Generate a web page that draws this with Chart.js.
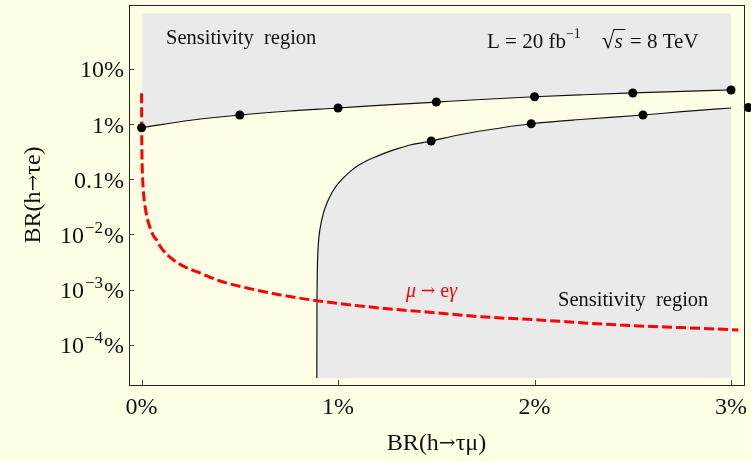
<!DOCTYPE html>
<html><head><meta charset="utf-8">
<script src="https://cdn.jsdelivr.net/npm/chart.js@4/dist/chart.umd.min.js"></script>
<style>html,body{margin:0;padding:0;background:#FFFFE5;}#wrap{width:751px;height:462px;}</style>
</head><body><div id="wrap"><canvas id="c" width="751" height="462"></canvas></div>
<script>
// ---- data (values in %) ----
const xTicks = [0, 1, 2, 3];
const xTickLabels = ['0%', '1%', '2%', '3%'];
const yTicks = [10, 1, 0.1, 0.01, 0.001, 0.0001];
const yTickLabels = ['10%', '1%', '0.1%', '10^−2%', '10^−3%', '10^−4%'];

// upper boundary curve BR(h→τe) vs BR(h→τμ)
const upperX = [0, 0.25, 0.5, 0.75, 1.0, 1.25, 1.5, 1.75, 2.0, 2.25, 2.5, 2.75, 3.0];
const upperY = [0.857, 1.17, 1.456, 1.72, 1.95, 2.22, 2.50, 2.81, 3.12, 3.39, 3.65, 3.90, 4.13];
const upperDotX = [0, 0.5, 1.0, 1.5, 2.0, 2.5, 3.0];
const upperDotY = [0.857, 1.456, 1.95, 2.50, 3.12, 3.65, 4.13];

// lower boundary curve
const lowerX = [0.892, 0.8925, 0.894, 0.897, 0.902, 0.909, 0.925, 0.943, 0.97, 0.994, 1.03, 1.061, 1.10, 1.146, 1.20, 1.248, 1.30, 1.367, 1.474, 1.60, 1.75, 1.983, 2.25, 2.552, 2.75, 3.0];
const lowerY = [0.000025, 0.0003, 0.0016, 0.0045, 0.0085, 0.013, 0.024, 0.0366, 0.058, 0.0785, 0.108, 0.137, 0.175, 0.216, 0.262, 0.307, 0.355, 0.417, 0.492, 0.62, 0.77, 1.01, 1.22, 1.456, 1.67, 1.95];
const lowerDotX = [1.474, 1.983, 2.552, 3.088];
const lowerDotY = [0.492, 1.01, 1.456, 1.99];

// mu -> e gamma bound (red dashed)
const megX = [0, 0.0004, 0.001, 0.003, 0.006, 0.012, 0.021, 0.035, 0.06, 0.077, 0.1, 0.16, 0.22, 0.298, 0.4, 0.536, 0.7, 0.892, 1.214, 1.5, 1.724, 2.0, 2.437, 2.75, 3.037];
const megY = [3.6, 1.3, 0.52, 0.18, 0.093, 0.047, 0.0272, 0.0163, 0.0095, 0.0079, 0.0057, 0.0035, 0.00258, 0.002, 0.00143, 0.00107, 0.00081, 0.00063, 0.000464, 0.00038, 0.000323, 0.000285, 0.000228, 0.000205, 0.000186];

// sensitivity region bounds
const regionTop = 100;
const regionBottom = 0.000025;
const xMin = -0.064, xMax = 3.066;
const yMin = Math.pow(10, -4.728), yMax = Math.pow(10, 2.156);

const pts = (xs, ys) => xs.map((v, i) => ({x: v, y: ys[i]}));

const GRAY = '#EAEAEA';
const CREAM = '#FFFFE5';
const FONT = '"Liberation Serif", "Times New Roman", serif';
const AFONT = '"DejaVu Serif", serif';
const fnt = (s, st) => (st ? st + ' ' : '') + s + 'px ' + FONT;
const afnt = s => s + 'px ' + AFONT;

function rich(ctx, parts, x, y, align) {
  let w = 0;
  parts.forEach(p => { ctx.font = p.font; p.w = ctx.measureText(p.t).width; w += p.w + (p.gap || 0) + (p.pre || 0); });
  let cx = align === 'right' ? x - w : align === 'center' ? x - w / 2 : x;
  parts.forEach(p => {
    cx += (p.pre || 0);
    ctx.font = p.font;
    ctx.fillText(p.t, cx, y + (p.dy || 0));
    if (p.after) p.after(ctx, cx, y, p.w);
    cx += p.w + (p.gap || 0);
  });
}

const bgPlugin = {
  id: 'bg',
  beforeDraw(chart) {
    const ctx = chart.ctx;
    ctx.save(); ctx.fillStyle = CREAM; ctx.fillRect(0, 0, chart.width, chart.height); ctx.restore();
  }
};

const annot = {
  id: 'annot',
  afterDraw(chart) {
    const {ctx, chartArea: a, scales: {x, y}} = chart;
    ctx.save();
    ctx.strokeStyle = '#222'; ctx.lineWidth = 1;
    ctx.strokeRect(a.left + 0.5, a.top + 0.5, a.right - a.left, a.bottom - a.top);
    ctx.strokeStyle = '#444';
    ctx.beginPath();
    xTicks.forEach(v => { const px = Math.round(x.getPixelForValue(v)) + 0.5; ctx.moveTo(px, a.bottom); ctx.lineTo(px, a.bottom - 5); });
    yTicks.forEach(v => { const py = Math.round(y.getPixelForValue(v)) + 0.5; ctx.moveTo(a.left, py); ctx.lineTo(a.left + 5, py); });
    ctx.stroke();

    ctx.fillStyle = '#111';
    ctx.textBaseline = 'alphabetic';
    ctx.textAlign = 'left';
    xTicks.forEach((v, i) => {
      rich(ctx, [{t: xTickLabels[i], font: fnt(24)}], x.getPixelForValue(v), a.bottom + 29, 'center');
    });
    yTicks.forEach((v, i) => {
      const lab = yTickLabels[i];
      const py = y.getPixelForValue(v) + 8.5;
      const m = lab.match(/^10\^(.+)%$/);
      let parts;
      if (m) parts = [{t: '10', font: fnt(24)}, {t: m[1], font: fnt(17), dy: -10, pre: 1, gap: 1}, {t: '%', font: fnt(24)}];
      else parts = [{t: lab, font: fnt(24)}];
      rich(ctx, parts, a.left - 5, py, 'right');
    });

    // axis titles
    const title = (last) => [
      {t: 'BR(h', font: fnt(24)},
      {t: '\u2192', font: afnt(20), dy: -1},
      {t: '\u03C4' + last + ')', font: fnt(24)}
    ];
    rich(ctx, title('\u03BC'), (a.left + a.right) / 2, 450, 'center');
    ctx.save();
    ctx.translate(40, (a.top + a.bottom) / 2);
    ctx.rotate(-Math.PI / 2);
    rich(ctx, title('e'), 0, 0, 'center');
    ctx.restore();

    // region labels
    rich(ctx, [{t: 'Sensitivity  region', font: fnt(20.5)}], 166, 44, 'left');
    rich(ctx, [{t: 'Sensitivity  region', font: fnt(20.5)}], 558, 306, 'left');
    rich(ctx, [
      {t: 'L = 20 fb', font: fnt(21)},
      {t: '\u22121', font: fnt(14), dy: -10, gap: 21},
      {t: '\u221A', font: fnt(23), after: (c, cx, yy, w) => {
        c.save(); c.strokeStyle = '#111'; c.lineWidth = 1; c.beginPath();
        c.moveTo(cx + w - 1, yy - 18.5); c.lineTo(cx + w + 11, yy - 18.5); c.stroke(); c.restore();
      }},
      {t: 's', font: fnt(21, 'italic'), gap: 2},
      {t: ' = 8 TeV', font: fnt(21)}
    ], 487, 48, 'left');

    ctx.fillStyle = '#FF0000';
    rich(ctx, [
      {t: '\u03BC', font: fnt(20, 'italic'), gap: 5},
      {t: '\u2192', font: afnt(17), gap: 5, dy: -1},
      {t: 'e', font: fnt(20)},
      {t: '\u03B3', font: fnt(20, 'italic')}
    ], 406, 297, 'left');
    ctx.restore();
  }
};

new Chart(document.getElementById('c'), {
  type: 'line',
  data: {
    datasets: [
      {data: pts(upperDotX, upperDotY), showLine: false, pointRadius: 4.5, pointBackgroundColor: '#000', pointBorderWidth: 0, fill: false},
      {data: pts(lowerDotX, lowerDotY), showLine: false, pointRadius: 4.5, pointBackgroundColor: '#000', pointBorderWidth: 0, fill: false, clip: false},
      {data: pts(megX, megY), borderColor: '#FF0000', borderWidth: 3, borderDash: [10, 4], pointRadius: 0, fill: false, cubicInterpolationMode: 'monotone'},
      {data: pts(upperX, upperY), borderColor: '#111', borderWidth: 1.2, pointRadius: 0, cubicInterpolationMode: 'monotone', fill: 5, backgroundColor: GRAY},
      {data: pts(lowerX, lowerY), borderColor: '#111', borderWidth: 1.2, pointRadius: 0, cubicInterpolationMode: 'monotone', fill: 6, backgroundColor: GRAY},
      {data: [{x: 0, y: regionTop}, {x: 3, y: regionTop}], borderWidth: 0, pointRadius: 0, fill: false},
      {data: [{x: lowerX[0], y: regionBottom}, {x: 3, y: regionBottom}], borderWidth: 0, pointRadius: 0, fill: false}
    ]
  },
  options: {
    responsive: false,
    animation: false,
    devicePixelRatio: 1,
    layout: {padding: {top: 5, right: 7, left: 0, bottom: 0}},
    plugins: {legend: {display: false}, tooltip: {enabled: false}, filler: {drawTime: 'beforeDatasetsDraw'}},
    scales: {
      x: {type: 'linear', min: xMin, max: xMax, grid: {display: false}, border: {display: false},
          ticks: {display: false}, afterFit: s => { s.height = 77; }},
      y: {type: 'logarithmic', min: yMin, max: yMax, grid: {display: false}, border: {display: false},
          ticks: {display: false}, afterFit: s => { s.width = 129; }}
    }
  },
  plugins: [bgPlugin, annot]
});
</script></body></html>
